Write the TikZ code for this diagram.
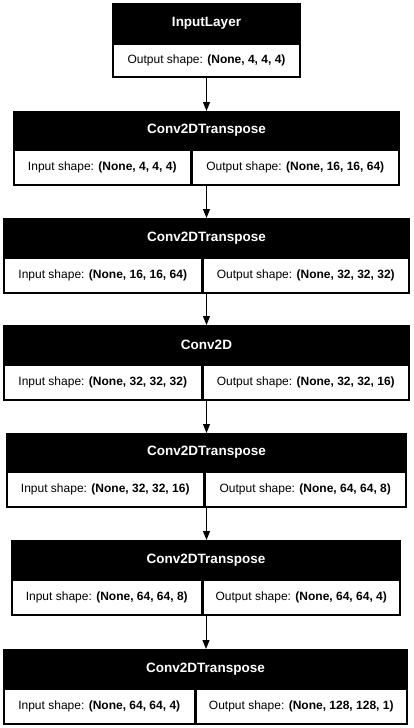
\documentclass[tikz,border=0pt]{standalone}
\usepackage{fontspec}
\setmainfont{Liberation Sans}
\usetikzlibrary{fit,arrows.meta,calc}
\begin{document}
\begin{tikzpicture}[x=1pt,y=-1pt,
  outerbox/.style={fill=black, inner sep=0pt, outer sep=0pt},
  cellbox/.style={fill=white, inner sep=0pt, outer sep=0pt},
  titletext/.style={text=white, font=\fontsize{13.5}{16}\selectfont\bfseries, inner sep=0pt},
  celltext/.style={font=\fontsize{12}{14}\selectfont, inner sep=0pt},
  arr/.style={line width=1pt, -{Triangle[length=9pt,width=7pt]}}]
\useasboundingbox[fill=white] (0,0) rectangle (413,728);
% input layer
\node[outerbox, fit={(112,3) (301,78)}] (b1) {};
\node[titletext] (b1-t) at ({(112+301)/2},{(3+44)/2}) {InputLayer};
\node[cellbox, fit={(114,45) (299,76)}] (b1-out) {};
\node[celltext] (b1-ot) at (b1-out.center) {Output shape: \textbf{(None, 4, 4, 4)}};
% other layers
\foreach \n/\L/\R/\T/\H/\B/\D/\ti/\ii/\oo in {
  b2/13/400/111/150/186/191/Conv2DTranspose/{(None, 4, 4, 4)}/{(None, 16, 16, 64)},
  b3/3/410/218/258/294/202/Conv2DTranspose/{(None, 16, 16, 64)}/{(None, 32, 32, 32)},
  b4/3/410/325/365/401/202/Conv2D/{(None, 32, 32, 32)}/{(None, 32, 32, 16)},
  b5/6/407/433/472/508/204/Conv2DTranspose/{(None, 32, 32, 16)}/{(None, 64, 64, 8)},
  b6/11/401/540/580/616/202/Conv2DTranspose/{(None, 64, 64, 8)}/{(None, 64, 64, 4)},
  b7/3/408/649/689/725/195/Conv2DTranspose/{(None, 64, 64, 4)}/{(None, 128, 128, 1)}}{
  \node[outerbox, fit={(\L,\T) (\R,\B)}] (\n) {};
  \node[titletext] (\n-t) at ({(\L+\R)/2},{(\T+\H)/2}) {\ti};
  \node[cellbox, fit={(\L+2,\H+1) (\D-1.5,\B-2)}] (\n-in) {};
  \node[cellbox, fit={(\D+1.5,\H+1) (\R-2,\B-2)}] (\n-out) {};
  \node[celltext] (\n-it) at (\n-in.center) {Input shape: \textbf{\ii}};
  \node[celltext] (\n-ot) at (\n-out.center) {Output shape: \textbf{\oo}};
}
\foreach \a/\b in {b1/b2,b2/b3,b3/b4,b4/b5,b5/b6,b6/b7}{
  \draw[arr] (\a.south) -- (\a.south |- \b.north);
}
\end{tikzpicture}
\end{document}
